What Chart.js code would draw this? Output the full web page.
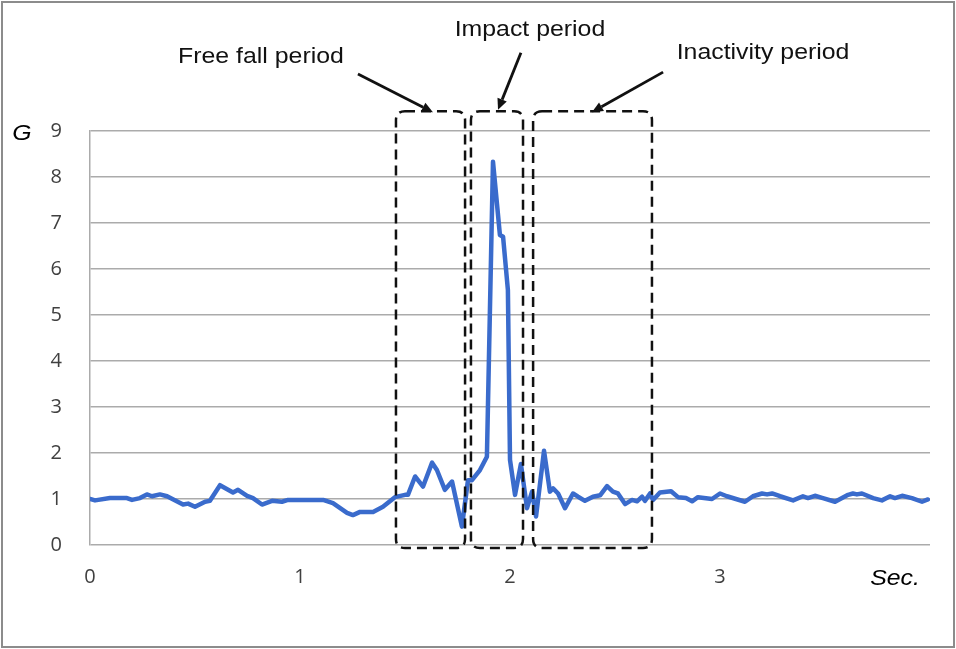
<!DOCTYPE html>
<html>
<head>
<meta charset="utf-8">
<script src="https://cdn.jsdelivr.net/npm/chart.js@4.4.1/dist/chart.umd.min.js"></script>
<style>
  html, body { margin: 0; padding: 0; background: #ffffff; }
  #wrap { width: 956px; height: 649px; position: relative; }
</style>
</head>
<body>
<div id="wrap"><canvas id="c" width="956" height="649"></canvas></div>
<script>
// ---- Data (time in seconds, acceleration in G) ----
const times = [0.000,0.024,0.095,0.176,0.200,0.238,0.271,0.295,0.333,0.367,0.443,0.467,0.500,0.548,0.571,0.619,0.681,0.705,0.748,0.776,0.819,0.867,0.914,0.943,1.110,1.157,1.224,1.252,1.286,1.348,1.395,1.452,1.500,1.514,1.548,1.586,1.629,1.652,1.690,1.724,1.771,1.800,1.819,1.857,1.890,1.919,1.952,1.967,1.990,2.000,2.024,2.052,2.081,2.105,2.124,2.162,2.190,2.205,2.229,2.262,2.300,2.324,2.357,2.395,2.429,2.462,2.490,2.514,2.548,2.581,2.605,2.629,2.643,2.667,2.681,2.714,2.767,2.800,2.838,2.867,2.895,2.962,3.000,3.033,3.119,3.157,3.200,3.224,3.248,3.286,3.348,3.395,3.419,3.452,3.490,3.548,3.610,3.633,3.652,3.676,3.729,3.771,3.810,3.833,3.867,3.914,3.962,3.990];
const gValues = [1.00,0.97,1.02,1.02,0.98,1.02,1.10,1.06,1.10,1.06,0.88,0.90,0.83,0.94,0.96,1.30,1.14,1.20,1.07,1.02,0.88,0.96,0.94,0.98,0.98,0.91,0.70,0.65,0.72,0.72,0.83,1.04,1.09,1.09,1.49,1.27,1.79,1.63,1.20,1.38,0.40,1.41,1.41,1.63,1.92,8.33,6.74,6.70,5.54,1.85,1.09,1.76,0.80,1.16,0.62,2.05,1.16,1.23,1.12,0.80,1.12,1.05,0.96,1.05,1.08,1.28,1.16,1.12,0.89,0.98,0.95,1.05,0.96,1.12,0.98,1.14,1.17,1.04,1.02,0.95,1.04,1.00,1.12,1.06,0.94,1.06,1.12,1.10,1.12,1.06,0.97,1.06,1.02,1.07,1.02,0.94,1.09,1.12,1.10,1.12,1.02,0.97,1.06,1.02,1.07,1.02,0.94,0.99];
const xTickLabels = ['0','1','2','3'];
const yTickLabels = ['0','1','2','3','4','5','6','7','8','9'];

// ---- Annotations (in data units: seconds, G) ----
const periodNames = ['Free fall period','Impact period','Inactivity period'];
const boxStart = [1.457, 1.814, 2.110];
const boxEnd   = [1.786, 2.062, 2.676];
const boxTop = 9.43, boxBottom = -0.065;
const labelX = [0.814, 2.095, 3.205];
const labelY = [10.61, 11.20, 10.70];
const arrowFromX = [1.276, 2.052, 2.729];
const arrowFromY = [10.24, 10.70, 10.28];
const arrowToX   = [1.633, 1.943, 2.390];
const arrowToY   = [9.41, 9.46, 9.41];

const STRETCH = 1.13;
function stretchedText(ctx, text, x, y, font, align) {
  ctx.save();
  ctx.font = font;
  ctx.textBaseline = 'middle';
  ctx.textAlign = align || 'center';
  ctx.translate(x, y);
  ctx.scale(STRETCH, 1);
  ctx.fillText(text, 0, 0);
  ctx.restore();
}
function roundRect(ctx, x0, y0, x1, y1, r) {
  ctx.beginPath();
  ctx.moveTo(x0 + r, y0);
  ctx.lineTo(x1 - r, y0);
  ctx.quadraticCurveTo(x1, y0, x1, y0 + r);
  ctx.lineTo(x1, y1 - r);
  ctx.quadraticCurveTo(x1, y1, x1 - r, y1);
  ctx.lineTo(x0 + r, y1);
  ctx.quadraticCurveTo(x0, y1, x0, y1 - r);
  ctx.lineTo(x0, y0 + r);
  ctx.quadraticCurveTo(x0, y0, x0 + r, y0);
  ctx.closePath();
}

const framePlugin = {
  id: 'frame',
  beforeDraw(chart) {
    const ctx = chart.ctx;
    ctx.save();
    ctx.fillStyle = '#ffffff';
    ctx.fillRect(0, 0, chart.width, chart.height);
    ctx.strokeStyle = '#8c8c8c';
    ctx.lineWidth = 2;
    ctx.strokeRect(2, 2, chart.width - 4, chart.height - 4);
    ctx.restore();
  },
  afterDraw(chart) {
    const ctx = chart.ctx;
    const xs = chart.scales.x, ys = chart.scales.y;
    ctx.save();
    // axis names
    ctx.fillStyle = '#000000';
    stretchedText(ctx, 'G', chart.chartArea.left - 68, ys.getPixelForValue(9) + 3, 'italic 22px "Liberation Sans", Arial, sans-serif');
    stretchedText(ctx, 'Sec.', xs.getPixelForValue(4) - 35, chart.chartArea.bottom + 34, 'italic 22px "Liberation Sans", Arial, sans-serif');
    // dashed boxes
    ctx.strokeStyle = '#111111';
    ctx.lineWidth = 2.5;
    ctx.setLineDash([10, 6]);
    for (let i = 0; i < boxStart.length; i++) {
      const x0 = xs.getPixelForValue(boxStart[i]);
      const x1 = xs.getPixelForValue(boxEnd[i]);
      const y0 = ys.getPixelForValue(boxTop);
      const y1 = ys.getPixelForValue(boxBottom);
      roundRect(ctx, x0, y0, x1, y1, 9);
      ctx.stroke();
    }
    ctx.setLineDash([]);
    // arrows
    ctx.fillStyle = '#111111';
    for (let i = 0; i < arrowFromX.length; i++) {
      const ax = xs.getPixelForValue(arrowFromX[i]);
      const ay = ys.getPixelForValue(arrowFromY[i]);
      const bx = xs.getPixelForValue(arrowToX[i]);
      const by = ys.getPixelForValue(arrowToY[i]);
      const ang = Math.atan2(by - ay, bx - ax);
      const head = 11, hw = 5;
      const hx = bx - head * Math.cos(ang), hy = by - head * Math.sin(ang);
      ctx.beginPath();
      ctx.lineWidth = 2.8;
      ctx.moveTo(ax, ay);
      ctx.lineTo(hx, hy);
      ctx.stroke();
      ctx.beginPath();
      ctx.moveTo(bx, by);
      ctx.lineTo(hx + hw * Math.sin(ang), hy - hw * Math.cos(ang));
      ctx.lineTo(hx - hw * Math.sin(ang), hy + hw * Math.cos(ang));
      ctx.closePath();
      ctx.fill();
    }
    // labels
    ctx.fillStyle = '#111111';
    for (let i = 0; i < periodNames.length; i++) {
      stretchedText(ctx, periodNames[i], xs.getPixelForValue(labelX[i]), ys.getPixelForValue(labelY[i]), '22px "Liberation Sans", Arial, sans-serif');
    }
    ctx.restore();
  }
};

const tickFont = { family: '"Open Sans", "Liberation Sans", sans-serif', size: 20 };

new Chart(document.getElementById('c'), {
  type: 'line',
  data: {
    datasets: [{
      data: times.map((t, i) => ({ x: t, y: gValues[i] })),
      borderColor: '#3a6bcc',
      borderWidth: 4.5,
      pointRadius: 0,
      tension: 0,
      borderJoinStyle: 'round',
      borderCapStyle: 'round',
      fill: false
    }]
  },
  options: {
    responsive: false,
    animation: false,
    devicePixelRatio: 1,
    layout: { padding: { left: 0, top: 131, right: 26, bottom: 0 } },
    plugins: { legend: { display: false }, tooltip: { enabled: false }, title: { display: false } },
    scales: {
      x: {
        type: 'linear',
        min: 0, max: 4,
        afterFit: (s) => { s.height = 104; },
        afterBuildTicks: (s) => { s.ticks = xTickLabels.map(v => ({ value: Number(v) })); },
        ticks: {
          stepSize: 1,
          padding: 20,
          color: '#404040',
          font: tickFont,
          maxRotation: 0,
          callback: (v) => xTickLabels[v] !== undefined ? xTickLabels[v] : ''
        },
        grid: { display: false, drawTicks: false },
        border: { display: false }
      },
      y: {
        min: 0, max: 9,
        afterFit: (s) => { s.width = 90; },
        ticks: {
          stepSize: 1,
          padding: 28,
          color: '#404040',
          font: tickFont,
          callback: (v) => yTickLabels[v]
        },
        grid: { color: '#ababab', lineWidth: 1.5, drawTicks: false },
        border: { display: true, color: '#ababab', width: 1.5 }
      }
    }
  },
  plugins: [framePlugin]
});
</script>
</body>
</html>
